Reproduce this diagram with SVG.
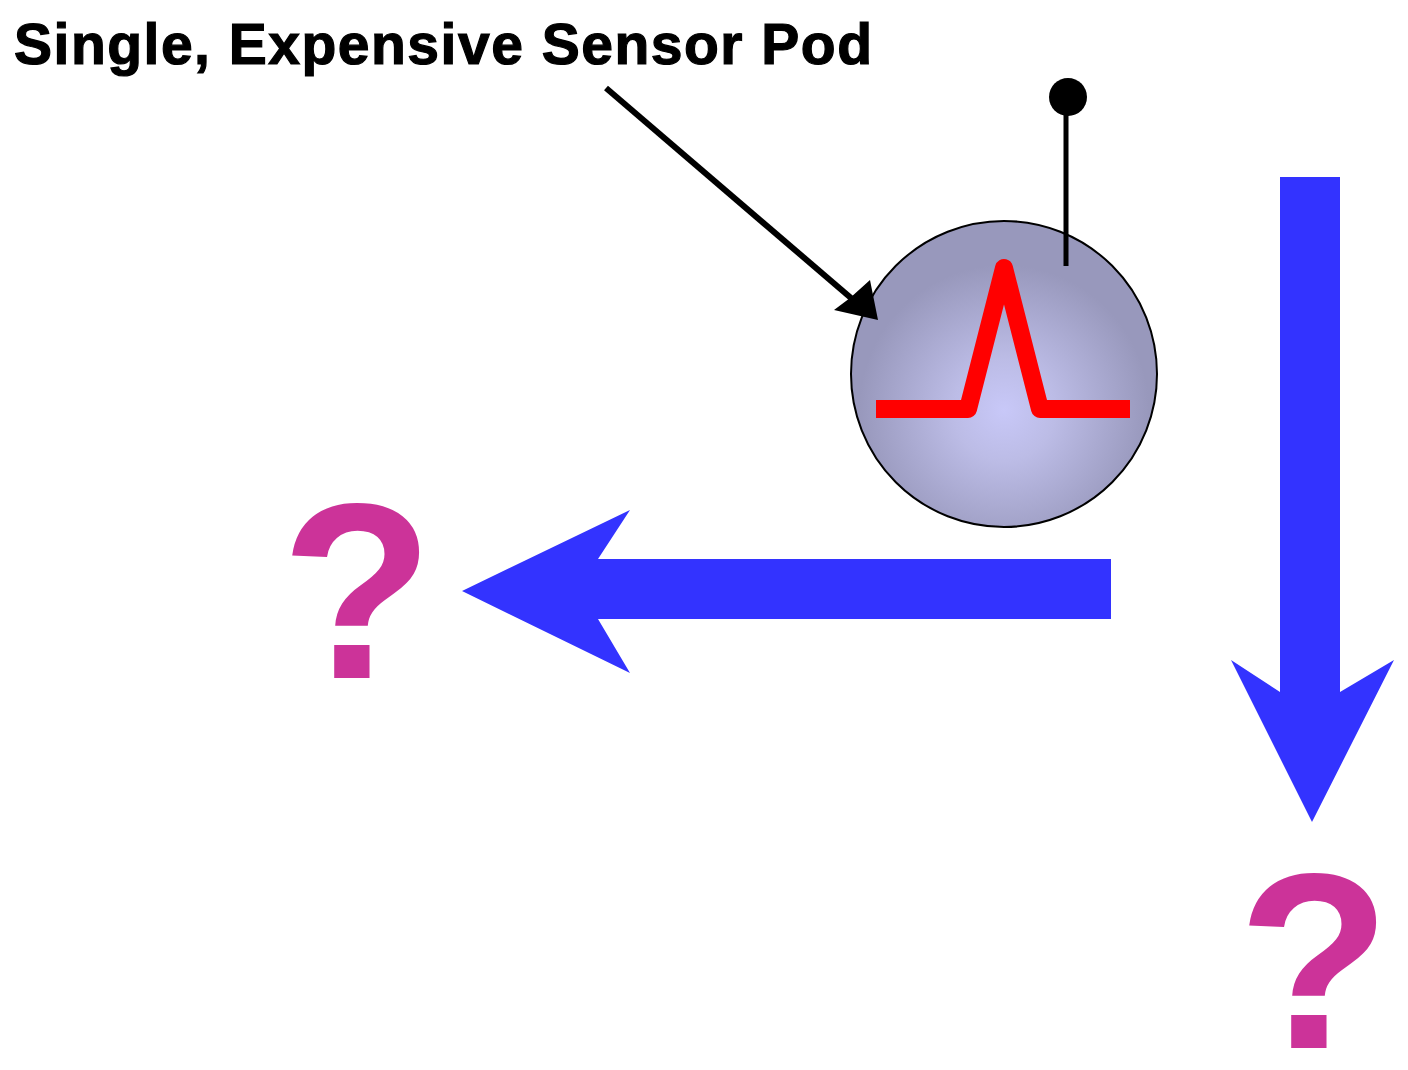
<svg xmlns="http://www.w3.org/2000/svg" width="1408" height="1070" viewBox="0 0 1408 1070">
<defs>
<radialGradient id="g" gradientUnits="userSpaceOnUse" cx="1004" cy="410" r="145"><stop offset="0" stop-color="#c8c8f8"/><stop offset="0.35" stop-color="#bcbce6"/><stop offset="1" stop-color="#9898bc"/></radialGradient>
</defs>
<style>
.q{font-family:"Liberation Sans",Arial,sans-serif;font-weight:700;font-size:250px;fill:#cc3399;text-anchor:middle}
.b{fill:#3333ff}
</style>
<rect width="1408" height="1070" fill="#fff"/>
<text id="label" x="14" y="64" font-family="'Liberation Sans',Arial,sans-serif" font-weight="700" font-size="57" textLength="858" lengthAdjust="spacing" fill="#000" stroke="#000" stroke-width="1.2">Single, Expensive Sensor Pod</text>
<g id="pod">
<circle cx="1004" cy="374" r="153" fill="url(#g)" stroke="#000" stroke-width="2"/>
<path d="M876 409H968L1004 268L1040 409H1130" fill="none" stroke="#ff0000" stroke-width="18" stroke-linejoin="round"/>
<path d="M1066 266V100" stroke="#000" stroke-width="5" fill="none"/>
<circle cx="1068" cy="97" r="19" fill="#000"/>
</g>
<g id="connectors">
<path d="M606 88L858 304" stroke="#000" stroke-width="6" fill="none"/>
<path d="M878 320L834 310L850 298L870 280Z" fill="#000"/>
<path class="b" d="M1111 559V619H598L630 673L462 591L630 510L598 559Z"/>
<path class="b" d="M1280 177H1340V692L1394 660L1312 822L1231 660L1280 692Z"/>
</g>
<text id="q1" class="q" x="357" y="678">?</text>
<text id="q2" class="q" x="1314" y="1048">?</text>
</svg>
